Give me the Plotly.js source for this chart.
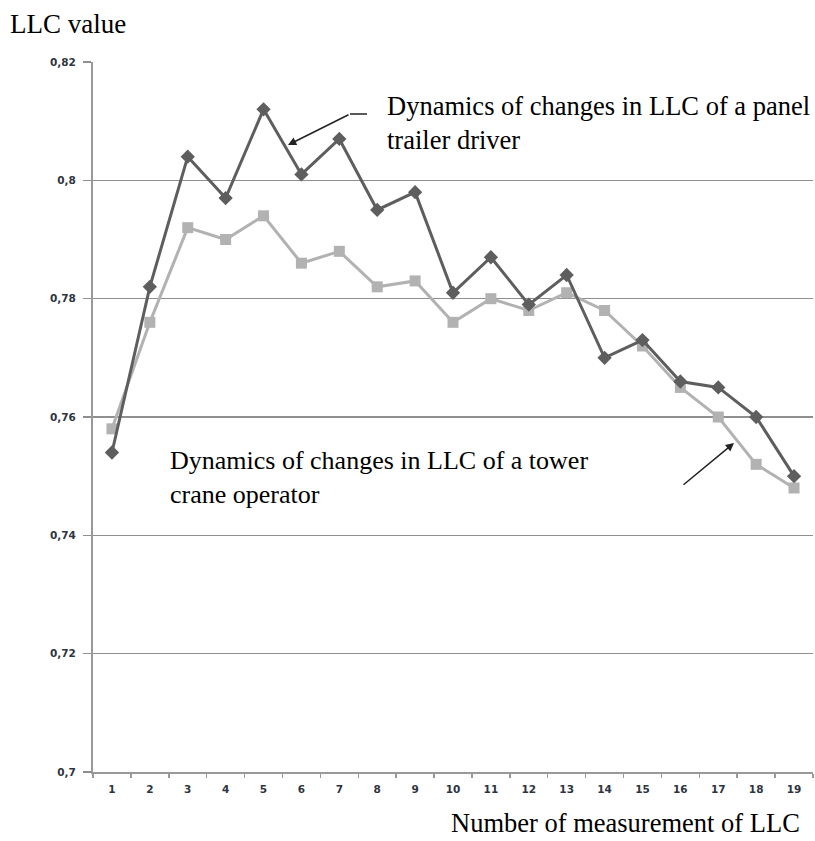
<!DOCTYPE html>
<html>
<head>
<meta charset="utf-8">
<script src="https://cdn.plot.ly/plotly-3.0.1.min.js"></script>
<style>
  html, body { margin: 0; padding: 0; background: #fff; }
  #chart { width: 815px; height: 841px; }
</style>
</head>
<body>
<div id="chart"></div>
<script>
// Measurement numbers (categories)
const measurements = ['1','2','3','4','5','6','7','8','9','10','11','12','13','14','15','16','17','18','19'];
// LLC of a panel trailer driver (dark, diamonds)
const panelTrailerDriver = [0.754, 0.782, 0.804, 0.797, 0.812, 0.801, 0.807, 0.795, 0.798, 0.781, 0.787, 0.779, 0.784, 0.770, 0.773, 0.766, 0.765, 0.760, 0.750];
// LLC of a tower crane operator (light, squares)
const towerCraneOperator = [0.758, 0.776, 0.792, 0.790, 0.794, 0.786, 0.788, 0.782, 0.783, 0.776, 0.780, 0.778, 0.781, 0.778, 0.772, 0.765, 0.760, 0.752, 0.748];
// Y tick values and labels
const yTickVals = [0.7, 0.72, 0.74, 0.76, 0.78, 0.8, 0.82];
const yTickText = ['0,7', '0,72', '0,74', '0,76', '0,78', '0,8', '0,82'];

const serif = 'Liberation Serif';
const tickFont = {family: 'DejaVu Sans', size: 10.5, color: '#2e3440', weight: 'bold'};

const traces = [
  {
    x: measurements, y: towerCraneOperator, type: 'scatter', mode: 'lines+markers',
    name: 'Tower crane operator',
    line: {color: '#b2b2b2', width: 3},
    marker: {symbol: 'square', size: 11, color: '#b2b2b2'}
  },
  {
    x: measurements, y: panelTrailerDriver, type: 'scatter', mode: 'lines+markers',
    name: 'Panel trailer driver',
    line: {color: '#5e5e5e', width: 3},
    marker: {symbol: 'diamond', size: 11, color: '#5e5e5e'}
  }
];

const layout = {
  width: 815, height: 841,
  margin: {l: 93, r: 2, t: 62, b: 69, pad: 0},
  paper_bgcolor: '#fff', plot_bgcolor: '#fff',
  showlegend: false,
  xaxis: {
    type: 'category',
    range: [-0.5, 18.5],
    tickson: 'boundaries',
    ticks: 'outside', ticklen: 4, tickwidth: 1.5, tickcolor: '#999',
    ticklabelstandoff: 6,
    showgrid: false,
    showline: true, linecolor: '#999', linewidth: 2,
    tickfont: tickFont,
    zeroline: false,
    fixedrange: true
  },
  yaxis: {
    range: [0.7, 0.82],
    tickvals: yTickVals, ticktext: yTickText,
    ticks: 'outside', ticklen: 8, tickwidth: 1.5, tickcolor: '#8f8f8f',
    ticklabelstandoff: 5,
    showgrid: true, gridcolor: '#8f8f8f', gridwidth: 1.5,
    showline: true, linecolor: '#999', linewidth: 2,
    tickfont: tickFont,
    zeroline: false,
    fixedrange: true
  },
  shapes: [
    {type: 'line', xref: 'paper', yref: 'paper',
     x0: (367 - 93) / 720, y0: (772 - 114) / 710, x1: (350 - 93) / 720, y1: (772 - 114) / 710,
     line: {color: '#222', width: 1.5}}
  ],
  annotations: [
    {xref: 'paper', yref: 'paper', x: (8 - 93) / 720, y: (772 - 24) / 710, xanchor: 'left', yanchor: 'middle',
     text: 'LLC value', showarrow: false, font: {family: serif, size: 27, color: '#000'}},
    {xref: 'paper', yref: 'paper', x: (449 - 93) / 720, y: (772 - 823) / 710, xanchor: 'left', yanchor: 'middle',
     text: 'Number of measurement of LLC', showarrow: false, font: {family: serif, size: 26.5, color: '#000'}},
    {xref: 'paper', yref: 'paper', x: (385 - 93) / 720, y: (772 - 123) / 710, xanchor: 'left', yanchor: 'middle',
     align: 'left',
     text: 'Dynamics of changes in LLC of a panel<br>trailer driver', showarrow: false, font: {family: serif, size: 26.5, color: '#000'}},
    {xref: 'paper', yref: 'paper', x: (168 - 93) / 720, y: (772 - 477) / 710, xanchor: 'left', yanchor: 'middle',
     align: 'left',
     text: 'Dynamics of changes in LLC of a tower<br>crane operator', showarrow: false, font: {family: serif, size: 26, color: '#000'}},
    {xref: 'paper', yref: 'paper', x: (288 - 93) / 720, y: (772 - 145) / 710,
     text: '', showarrow: true, ax: 62, ay: -31, arrowhead: 2, arrowsize: 1.1, arrowwidth: 1.5, arrowcolor: '#222'},
    {xref: 'paper', yref: 'paper', x: (734 - 93) / 720, y: (772 - 443) / 710,
     text: '', showarrow: true, ax: -52, ay: 43, arrowhead: 2, arrowsize: 1.1, arrowwidth: 1.5, arrowcolor: '#222'}
  ]
};

Plotly.newPlot('chart', traces, layout, {displayModeBar: false, staticPlot: true});
</script>
</body>
</html>
